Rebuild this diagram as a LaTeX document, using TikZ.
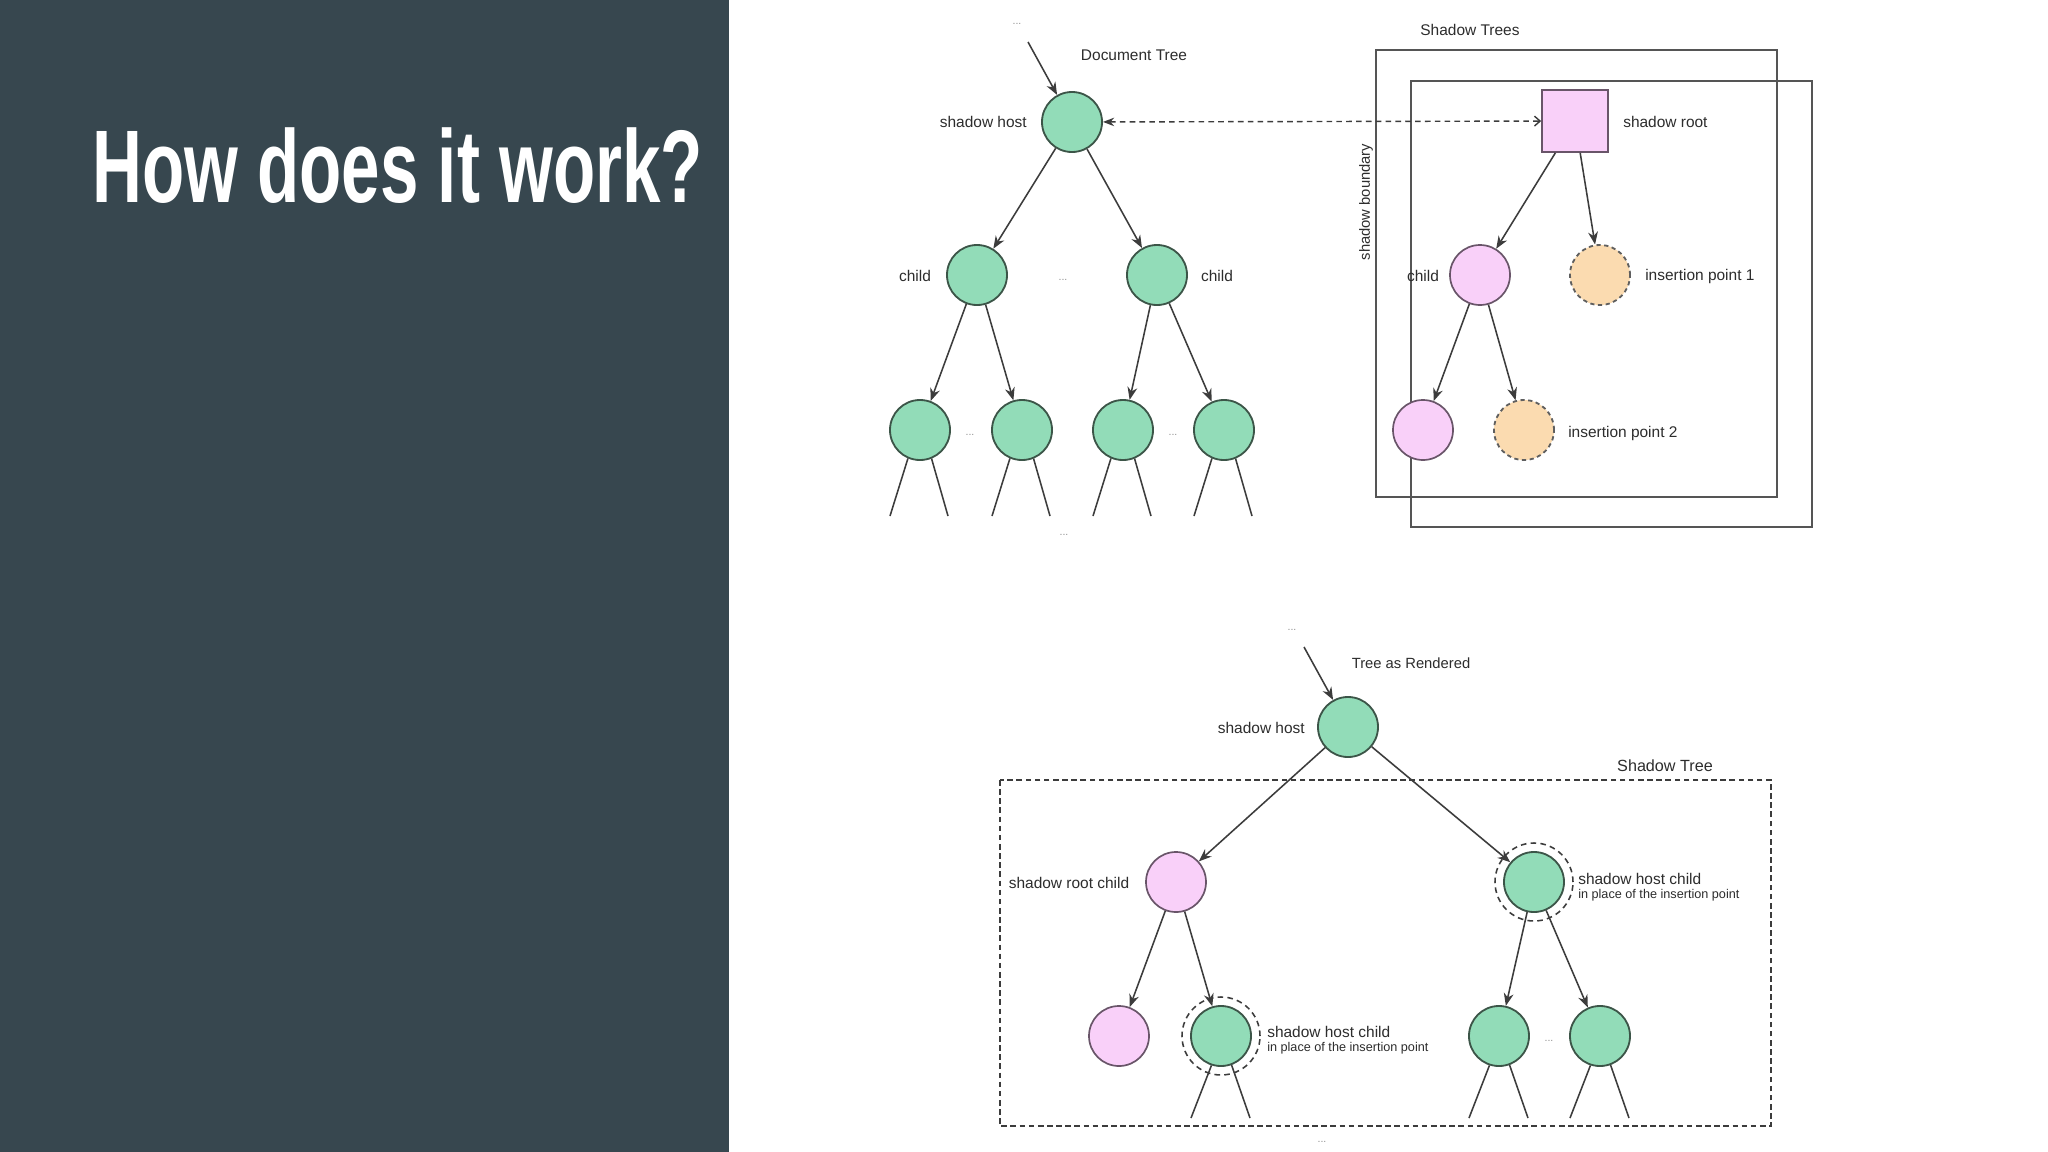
\documentclass[tikz,border=0pt]{standalone}
\usepackage{fontspec}
\setmainfont{Liberation Sans}
\usetikzlibrary{arrows.meta,calc}
\definecolor{panel}{RGB}{55,71,79}
\definecolor{gfill}{RGB}{146,220,184}
\definecolor{gline}{RGB}{60,85,72}
\definecolor{pfill}{RGB}{249,208,249}
\definecolor{pline}{RGB}{105,85,105}
\definecolor{ofill}{RGB}{251,219,176}
\definecolor{oline}{RGB}{95,95,95}
\definecolor{ink}{RGB}{45,45,45}
\definecolor{edgec}{RGB}{60,60,60}
\definecolor{boxline}{RGB}{85,85,85}
\begin{document}
\begin{tikzpicture}[x=0.025cm,y=-0.025cm,
 gnode/.style={circle,draw=gline,fill=gfill,line width=1.3pt,minimum size=1.5cm,inner sep=0pt},
 pnode/.style={circle,draw=pline,fill=pfill,line width=1.2pt,minimum size=1.5cm,inner sep=0pt},
 onode/.style={circle,draw=oline,fill=ofill,line width=1.3pt,dash pattern=on 3pt off 2.5pt,minimum size=1.5cm,inner sep=0pt},
 halo/.style={circle,draw=edgec,line width=1.1pt,dash pattern=on 4pt off 3pt,minimum size=1.95cm,inner sep=0pt},
 arr/.style={draw=edgec,line width=1.1pt,-{Stealth[length=9pt,width=7pt]}},
 tail/.style={draw=edgec,line width=1.1pt},
 lbl/.style={text=ink,font=\fontsize{11}{13}\selectfont,inner sep=0pt},
 small/.style={text=ink,font=\fontsize{9}{11}\selectfont,inner sep=0pt},
 dots/.style={text=gray!85,font=\fontsize{7.5}{8}\selectfont,inner sep=0pt},
 frame/.style={draw=boxline,line width=1.3pt}
]
\useasboundingbox (0,0) rectangle (2048,1152);
\fill[white] (0,0) rectangle (2048,1152);
\fill[panel] (0,0) rectangle (729,1152);
\node[anchor=base west,inner sep=0pt,text=white] (title) at (92,202)
  {\resizebox{434pt}{53.2pt}{\bfseries How does it work?}};

% ---------- Document tree ----------
\node[dots] (dtopdots) at (1017,24) {...};
\coordinate (dtop) at (1028,42);
\node[lbl] (dtitle) at (1134,55) {Document Tree};
\node[gnode] (dhost) at (1072,122) {};
\node[lbl,anchor=east] (dhostl) at (1027,122) {shadow host};
\node[gnode] (dc1) at (977,275) {};
\node[gnode] (dc2) at (1157,275) {};
\node[lbl] (dc1l) at (915,276) {child};
\node[lbl] (dc2l) at (1217,276) {child};
\node[dots] (dcdots) at (1063,280) {...};
\node[gnode] (dl1) at (920,430) {};
\node[gnode] (dl2) at (1022,430) {};
\node[gnode] (dl3) at (1123,430) {};
\node[gnode] (dl4) at (1224,430) {};
\node[dots] (dldots1) at (970,435) {...};
\node[dots] (dldots2) at (1173,435) {...};
\node[dots] (dbdots) at (1064,535) {...};
\draw[arr] (dtop) -- (dhost);
\draw[arr] (dhost) -- (dc1);
\draw[arr] (dhost) -- (dc2);
\draw[arr] (dc1) -- (dl1);
\draw[arr] (dc1) -- (dl2);
\draw[arr] (dc2) -- (dl3);
\draw[arr] (dc2) -- (dl4);
\foreach \n in {dl1,dl2,dl3,dl4}{
  \draw[tail] (\n.247) -- ($(\n.center)+(-30,86)$);
  \draw[tail] (\n.292) -- ($(\n.center)+(28,86)$);
}

% ---------- Shadow trees ----------
\node[lbl] (stitle) at (1470,30) {Shadow Trees};
\draw[frame] (1376,50) rectangle (1777,497);
\draw[frame] (1411,81) rectangle (1812,527);
\node[lbl,rotate=90,font=\fontsize{10.5}{12}\selectfont] (sbound) at (1366,202) {shadow boundary};
\node[pnode,rectangle,minimum width=1.65cm,minimum height=1.55cm] (root) at (1575,121) {};
\node[lbl,anchor=west] (rootl) at (1623,122) {shadow root};
\node[pnode] (sc) at (1480,275) {};
\node[lbl] (scl) at (1423,276) {child};
\node[onode] (ip1) at (1600,275) {};
\node[lbl,anchor=west] (ip1l) at (1645,276) {insertion point 1};
\node[pnode] (sl) at (1423,430) {};
\node[onode] (ip2) at (1524,430) {};
\node[lbl,anchor=west] (ip2l) at (1568,433) {insertion point 2};
\draw[arr] (root) -- (sc);
\draw[arr] (root) -- (ip1);
\draw[arr] (sc) -- (sl);
\draw[arr] (sc) -- (ip2);
\draw[draw=edgec,line width=1pt,dash pattern=on 4pt off 3pt,
  {Stealth[length=8pt,width=6pt]}-{Straight Barb[length=4pt,width=7pt]}] (dhost) -- (root);

% ---------- Tree as rendered ----------
\node[dots] (rtopdots) at (1292,630) {...};
\coordinate (rtop) at (1304,647);
\node[lbl,font=\fontsize{10.5}{12}\selectfont] (rtitle) at (1411,663) {Tree as Rendered};
\node[gnode] (rhost) at (1348,727) {};
\node[lbl,anchor=east] (rhostl) at (1305,728) {shadow host};
\draw[draw=edgec,line width=1pt,dash pattern=on 4pt off 2.5pt] (1000,780) rectangle (1771,1126);
\node[lbl,font=\fontsize{11.5}{13}\selectfont] (sttitle) at (1665,766) {Shadow Tree};
\node[pnode] (rc) at (1176,882) {};
\node[lbl] (rcl) at (1069,883) {shadow root child};
\node[halo] (hc1h) at (1534,882) {};
\node[gnode] (hc1) at (1534,882) {};
\node[lbl,anchor=west] (hc1l) at (1578,879) {shadow host child};
\node[small,anchor=west] (hc1s) at (1578,895) {in place of the insertion point};
\node[pnode] (rl) at (1119,1036) {};
\node[halo] (hc2h) at (1221,1036) {};
\node[gnode] (hc2) at (1221,1036) {};
\node[lbl,anchor=west] (hc2l) at (1267,1032) {shadow host child};
\node[small,anchor=west] (hc2s) at (1267,1048) {in place of the insertion point};
\node[gnode] (hl1) at (1499,1036) {};
\node[gnode] (hl2) at (1600,1036) {};
\node[dots] (hldots) at (1549,1041) {...};
\node[dots] (rbdots) at (1322,1142) {...};
\draw[arr] (rtop) -- (rhost);
\draw[arr] (rhost) -- (rc);
\draw[arr] (rhost) -- (hc1);
\draw[arr] (rc) -- (rl);
\draw[arr] (rc) -- (hc2);
\draw[arr] (hc1) -- (hl1);
\draw[arr] (hc1) -- (hl2);
\foreach \n in {hc2,hl1,hl2}{
  \draw[tail] (\n.252) -- ($(\n.center)+(-30,82)$);
  \draw[tail] (\n.290) -- ($(\n.center)+(29,82)$);
}
\end{tikzpicture}
\end{document}
